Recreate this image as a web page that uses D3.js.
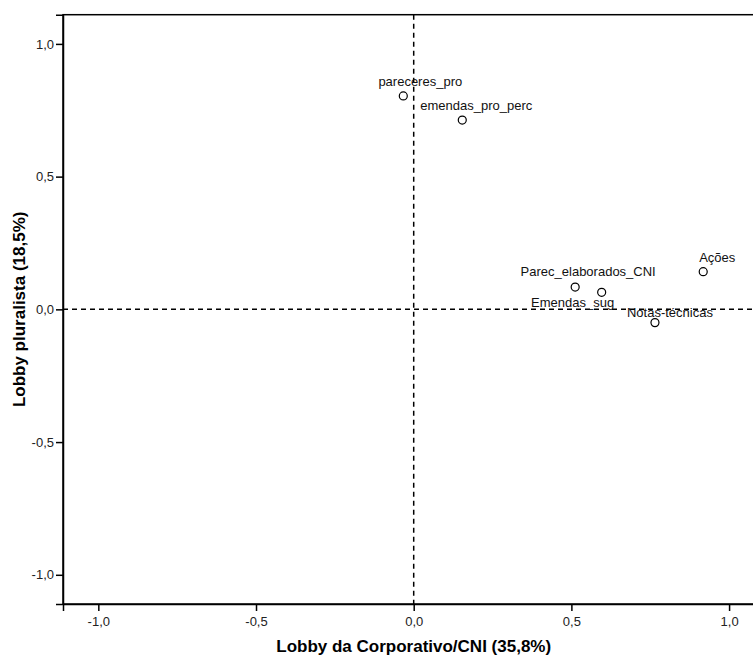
<!DOCTYPE html>
<html>
<head>
<meta charset="utf-8">
<script src="https://cdn.jsdelivr.net/npm/d3@7"></script>
<style>
  body { margin: 0; background: #fff; }
  svg text { font-family: "Liberation Sans", Arial, sans-serif; }
</style>
</head>
<body>
<svg id="chart" width="753" height="657"></svg>
<script>
// variables (dimension scores)
const labels = ["pareceres_pro", "emendas_pro_perc", "Parec_elaborados_CNI", "Emendas_sug", "Notas-técnicas", "Ações"];
const dim1 = [-0.033, 0.154, 0.512, 0.596, 0.765, 0.918];
const dim2 = [0.804, 0.713, 0.084, 0.064, -0.050, 0.142];
const tickVals = [-1.0, -0.5, 0.0, 0.5, 1.0];
const xTitle = "Lobby da Corporativo/CNI (35,8%)";
const yTitle = "Lobby pluralista (18,5%)";

const svg = d3.select("svg#chart");
const fmt = d3.formatLocale({decimal: ",", thousands: ".", grouping: [3], currency: ["", ""], minus: "-"}).format(".1f");

const x = d3.scaleLinear().domain([-1.112, 1.112]).range([63, 764.4]);
const y = d3.scaleLinear().domain([-1.11, 1.11]).range([604, 14.7]);

// frame
svg.append("rect")
    .attr("x", x(-1.112)).attr("y", y(1.11))
    .attr("width", x(1.112) - x(-1.112)).attr("height", y(-1.11) - y(1.11))
    .attr("fill", "none").attr("stroke", "#000").attr("stroke-width", 1.5);

// reference lines
svg.append("line")
    .attr("x1", x(0)).attr("x2", x(0)).attr("y1", y(1.11)).attr("y2", y(-1.11))
    .attr("stroke", "#000").attr("stroke-width", 1.5).attr("stroke-dasharray", "5,4");
svg.append("line")
    .attr("x1", x(-1.112)).attr("x2", x(1.112)).attr("y1", y(0)).attr("y2", y(0))
    .attr("stroke", "#000").attr("stroke-width", 1.5).attr("stroke-dasharray", "5,4");

const xAxis = svg.append("g")
    .attr("transform", `translate(0,${y(-1.11)})`)
    .call(d3.axisBottom(x).tickValues(tickVals).tickFormat(fmt).tickSizeOuter(0).tickSize(7).tickPadding(6));
const yAxis = svg.append("g")
    .attr("transform", `translate(${x(-1.112)},0)`)
    .call(d3.axisLeft(y).tickValues(tickVals).tickFormat(fmt).tickSizeOuter(0).tickSize(7).tickPadding(2));

[xAxis, yAxis].forEach(g => {
    g.select(".domain").attr("stroke-width", 1.5);
    g.selectAll(".tick line").attr("stroke-width", 1.5);
    g.selectAll(".tick text").attr("font-size", 13).attr("fill", "#222")
        .style("font-family", "Liberation Sans, Arial, sans-serif");
});

// axis titles
svg.append("text")
    .attr("x", x(0)).attr("y", 652)
    .attr("text-anchor", "middle")
    .attr("font-size", 17).attr("font-weight", "bold")
    .text(xTitle);
svg.append("text")
    .attr("transform", `translate(25,${y(0)}) rotate(-90)`)
    .attr("text-anchor", "middle")
    .attr("font-size", 17).attr("font-weight", "bold")
    .text(yTitle);

// label offsets, relative to the point
const labelOffset = [[17, -10], [14, -10], [13, -11], [-29, 15], [15, -6], [14, -10]];

const pts = svg.append("g").selectAll("g")
    .data(labels.map((l, i) => ({label: l, x: dim1[i], y: dim2[i], off: labelOffset[i]})))
    .join("g");

pts.append("circle")
    .attr("cx", d => x(d.x)).attr("cy", d => y(d.y))
    .attr("r", 4)
    .attr("fill", "#fff").attr("stroke", "#000").attr("stroke-width", 1.2);

pts.append("text")
    .attr("x", d => x(d.x) + d.off[0]).attr("y", d => y(d.y) + d.off[1])
    .attr("text-anchor", "middle")
    .attr("font-size", 13).attr("fill", "#111")
    .text(d => d.label);
</script>
</body>
</html>
